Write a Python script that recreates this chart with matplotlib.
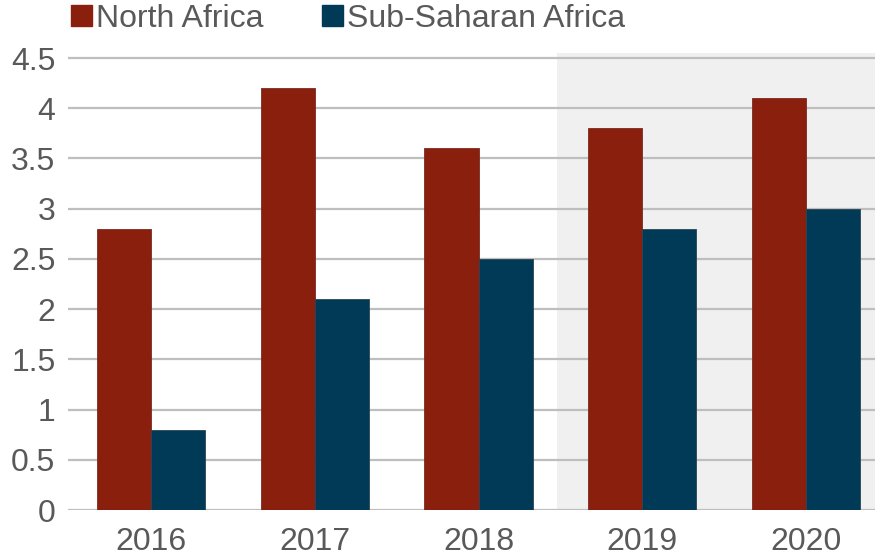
import matplotlib.pyplot as plt
import numpy as np
from matplotlib.patches import Patch

years = ["2016", "2017", "2018", "2019", "2020"]
north_africa = [2.8, 4.2, 3.6, 3.8, 4.1]
sub_saharan = [0.8, 2.1, 2.5, 2.8, 3.0]
yticks = [0, 0.5, 1, 1.5, 2, 2.5, 3, 3.5, 4, 4.5]

red = "#8B1F0D"
navy = "#003A57"
txt = "#595959"

plt.rcParams['font.family'] = ['Liberation Sans', 'DejaVu Sans']

fig = plt.figure(figsize=(8.75, 5.56), dpi=100)
ax = fig.add_axes([68 / 875, 1 - 510 / 556, 1 - 68 / 875, 457 / 556])

x = np.arange(len(years))
w = 0.33

# forecast years shaded
ax.axvspan(2.476, 4.42, ymin=0, ymax=1, color="#F0F0F0", zorder=0, lw=0)

ax.bar(x - w / 2, north_africa, w, color=red, edgecolor="#7a2a20", linewidth=0.6, zorder=3)
ax.bar(x + w / 2, sub_saharan, w, color=navy, edgecolor="#2a4455", linewidth=0.6, zorder=3)

ax.set_xlim(-0.506, 4.42)
ax.set_ylim(0, 4.55)
ax.set_yticks(yticks)
ax.set_yticklabels([f"{t:g}" for t in yticks])
ax.set_xticks(x)
ax.set_xticklabels(years)
ax.yaxis.grid(True, color="#BEBEBE", linewidth=1.6, zorder=1)
ax.set_axisbelow(True)
for s in ax.spines.values():
    s.set_visible(False)
ax.tick_params(length=0, labelsize=23, colors=txt)
ax.tick_params(axis="x", pad=12)
ax.tick_params(axis="y", pad=9)
ax.patch.set_alpha(0)

handles = [Patch(color=red), Patch(color=navy)]
fig.legend(handles, ["North Africa", "Sub-Saharan Africa"], loc="center left",
           bbox_to_anchor=(68 / 875, 1 - 19 / 556), ncol=2, frameon=False,
           fontsize=23, labelcolor=txt, handlelength=0.65, handleheight=0.65,
           handletextpad=0.12, columnspacing=1.85, borderaxespad=0.0,
           borderpad=0.1)

fig.savefig("out.png", dpi=100)
